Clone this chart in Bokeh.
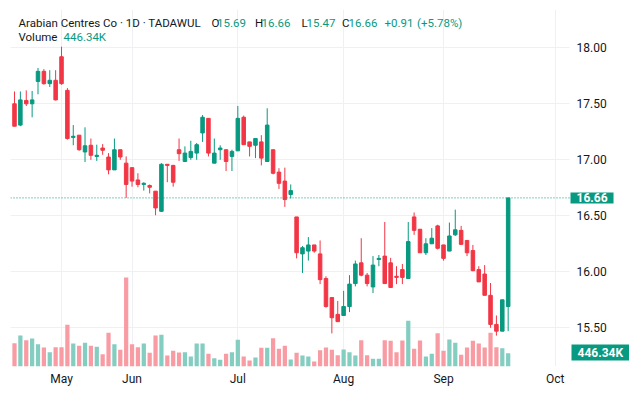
from bokeh.plotting import figure
from bokeh.models import Range1d, FixedTicker, Label, ColumnDataSource, NumeralTickFormatter
from bokeh.embed import file_html
from bokeh.resources import INLINE

# ---------------- data ----------------
opens = [17.50, 17.31, 17.53, 17.50, 17.70, 17.79, 17.68, 17.71, 17.92, 17.62,
         17.20, 17.22, 17.07, 17.13, 17.03, 17.105, 17.025, 16.91, 17.09, 16.97,
         16.93, 16.82, 16.78, 16.77, 16.72, 16.54, 16.96, 16.95, 17.09, 16.985,
         17.02, 17.06, 17.24, 17.37, 16.97, 17.09, 17.09, 17.03, 17.08, 17.38,
         17.16, 17.13, 17.16, 16.985, 17.09, 16.89, 16.81, 16.69, 16.49, 16.16,
         16.185, 16.24, 16.16, 15.94, 15.77, 15.62, 15.61, 15.69, 15.895, 16.08,
         15.97, 15.865, 16.11, 16.14, 16.08, 15.96, 16.02, 15.94, 16.49, 16.38,
         16.17, 16.25, 16.41, 16.24, 16.185, 16.33, 16.37, 16.28, 16.19, 16.02,
         15.98, 15.79, 15.53, 15.47, 15.69]
highs = [17.61, 17.61, 17.62, 17.615, 17.82, 17.81, 17.80, 17.80, 18.01, 17.64,
         17.31, 17.22, 17.29, 17.19, 17.135, 17.14, 17.06, 17.19, 17.09, 17.03,
         16.93, 16.88, 16.80, 16.78, 16.72, 16.97, 16.96, 16.955, 17.19, 17.12,
         17.17, 17.15, 17.40, 17.37, 17.19, 17.13, 17.09, 17.09, 17.48, 17.395,
         17.16, 17.19, 17.22, 17.46, 17.09, 16.925, 16.93, 16.78, 16.49, 16.23,
         16.31, 16.24, 16.28, 15.96, 15.77, 15.74, 15.83, 15.97, 16.10, 16.30,
         15.99, 16.14, 16.15, 16.445, 16.125, 16.05, 16.07, 16.445, 16.53, 16.38,
         16.30, 16.39, 16.42, 16.24, 16.44, 16.555, 16.41, 16.28, 16.24, 16.05,
         16.06, 15.90, 15.61, 15.75, 16.66]
lows = [17.30, 17.30, 17.48, 17.38, 17.585, 17.67, 17.65, 17.53, 17.67, 17.18,
        17.13, 17.08, 16.98, 17.00, 16.99, 17.045, 16.87, 16.91, 17.00, 16.66,
        16.76, 16.755, 16.725, 16.70, 16.505, 16.535, 16.80, 16.76, 16.99, 16.98,
        17.00, 17.00, 17.16, 17.03, 16.97, 17.00, 16.90, 16.90, 17.08, 17.135,
        17.03, 17.015, 16.95, 16.985, 16.87, 16.74, 16.58, 16.655, 16.12, 15.99,
        16.10, 16.17, 15.89, 15.68, 15.45, 15.555, 15.61, 15.64, 15.87, 15.96,
        15.87, 15.81, 16.05, 15.895, 15.86, 15.89, 15.89, 15.94, 16.33, 16.17,
        16.15, 16.25, 16.20, 16.10, 16.185, 16.32, 16.24, 16.14, 16.005, 15.91,
        15.79, 15.50, 15.43, 15.47, 15.47]
closes = [17.30, 17.535, 17.50, 17.535, 17.79, 17.68, 17.71, 17.535, 17.68, 17.19,
          17.21, 17.09, 17.125, 17.04, 17.04, 17.085, 16.91, 17.09, 17.025, 16.78,
          16.81, 16.78, 16.79, 16.755, 16.57, 16.96, 16.95, 16.80, 17.055, 17.06,
          17.075, 17.135, 17.38, 17.06, 17.06, 17.105, 16.985, 17.075, 17.37, 17.135,
          17.12, 17.19, 17.015, 17.31, 16.88, 16.79, 16.645, 16.725, 16.17, 16.215,
          16.24, 16.185, 15.93, 15.69, 15.59, 15.555, 15.69, 15.89, 16.07, 15.97,
          15.895, 16.06, 16.12, 15.895, 15.86, 15.95, 15.95, 16.27, 16.37, 16.17,
          16.25, 16.30, 16.21, 16.12, 16.32, 16.375, 16.245, 16.17, 16.01, 15.91,
          15.79, 15.53, 15.47, 15.75, 16.66]
volumes_k = [781, 1039, 881, 938, 747, 637, 479, 647, 647, 1397,
             771, 693, 794, 693, 660, 412, 1129, 747, 559, 2982,
             747, 647, 771, 459, 1039, 1062, 369, 526, 469, 479,
             335, 771, 771, 425, 278, 224, 425, 479, 894, 335,
             201, 302, 626, 626, 948, 593, 693, 235, 459, 365,
             335, 168, 546, 637, 559, 379, 570, 479, 369, 881,
             379, 258, 258, 881, 861, 479, 871, 1531, 593, 871,
             335, 425, 1116, 526, 905, 794, 392, 637, 861, 771,
             637, 1129, 647, 613, 446.34]
month_positions = [8, 20, 38, 56, 73, 92]
month_labels = ["May", "Jun", "Jul", "Aug", "Sep", "Oct"]
price_ticks = [15.5, 16.0, 16.5, 17.0, 17.5, 18.0]

# ---------------- style ----------------
UP = "#089981"
DOWN = "#F23645"
UP_VOL = "#84cdc1"
DOWN_VOL = "#f89ba3"
DARK = "#131722"
GRID = "#eef0f4"
FONT = "Roboto"

BAR_PX = 5.877      # pixels per bar
X0_PX = 14.0        # page x of first bar
PANE_RIGHT_PX = 569  # right edge of the price pane (price scale to the right)


def px_to_idx(px):
    return (px - X0_PX) / BAR_PX


def price_at(py):
    return 18 - (py - 47.3) / 112.0


n = len(closes)
xs = list(range(n))
up = [c >= o for o, c in zip(opens, closes)]
src = ColumnDataSource(dict(
    x=xs,
    high=highs, low=lows,
    top=[max(o, c) for o, c in zip(opens, closes)],
    bottom=[min(o, c) for o, c in zip(opens, closes)],
    color=[UP if u else DOWN for u in up],
    vol=volumes_k,
    vcolor=[UP_VOL if u else DOWN_VOL for u in up],
))

W, H = 632, 392
p = figure(width=W, height=H, output_backend="svg", toolbar_location=None,
           x_range=Range1d(px_to_idx(10), px_to_idx(W)), y_range=Range1d(15.1545, 18.342),
           y_axis_location="right",
           min_border_left=10, min_border_top=9, min_border_right=0, min_border_bottom=26)
p.extra_y_ranges = {"vol": Range1d(0, 11952)}
p.outline_line_color = None
p.background_fill_color = "white"
p.border_fill_color = "white"

# volume
p.vbar(x="x", width=0.72, top="vol", bottom=0, source=src, y_range_name="vol",
       fill_color="vcolor", line_color=None)

# candles
p.segment(x0="x", y0="low", x1="x", y1="high", source=src, line_color="color", line_width=1)
p.vbar(x="x", width=0.6, top="top", bottom="bottom", source=src,
       fill_color="color", line_color="color", line_width=1)

# axes
p.xaxis.ticker = FixedTicker(ticks=month_positions)
p.xaxis.major_label_overrides = {m: l for m, l in zip(month_positions, month_labels)}
p.yaxis.ticker = FixedTicker(ticks=price_ticks)
p.yaxis.formatter = NumeralTickFormatter(format="0.00")
for ax in (p.xaxis, p.yaxis):
    ax.axis_line_color = None
    ax.major_tick_line_color = None
    ax.minor_tick_line_color = None
    ax.major_tick_out = 0
    ax.major_tick_in = 0
    ax.minor_tick_out = 0
    ax.minor_tick_in = 0
    ax.major_label_text_font = FONT
    ax.major_label_text_font_size = "12px"
    ax.major_label_text_color = DARK
p.xaxis.major_label_standoff = 5
# price scale labels sit in the strip right of the price pane
p.yaxis.major_label_standoff = 576 - W

p.xgrid.ticker = FixedTicker(ticks=month_positions)
p.ygrid.ticker = FixedTicker(ticks=price_ticks)
p.xgrid.grid_line_color = GRID
p.ygrid.grid_line_color = GRID
p.ygrid.cross_bounds = (px_to_idx(10), px_to_idx(PANE_RIGHT_PX))
p.xgrid.bounds = (month_positions[0], month_positions[-1])

# last price line (dotted) across the price pane
last = closes[-1]
p.line(x=[px_to_idx(10), px_to_idx(PANE_RIGHT_PX + 1)], y=[last, last],
       line_color=UP, line_dash="1 2", line_width=1)

# price tag and volume tag on the price scale
p.add_layout(Label(x=px_to_idx(570), y=last, text=f"{last:.2f}",
                   text_align="left", text_baseline="middle", text_color="white",
                   text_font=FONT, text_font_size="12px", text_font_style="bold",
                   background_fill_color=UP, padding=(6, 1)))
p.add_layout(Label(x=px_to_idx(571), y=(366 - 352) / 0.02987, y_range_name="vol",
                   text=f"{volumes_k[-1]:.2f}K",
                   text_align="left", text_baseline="middle", text_color="white",
                   text_font=FONT, text_font_size="12px", text_font_style="bold",
                   background_fill_color=UP, padding=(6, 1)))

# header legend
chg = closes[-1] - closes[-2]
pct = chg / closes[-2] * 100
row1 = [
    ("Arabian Centres Co \u00b7 1D \u00b7 TADAWUL", 18, DARK),
    ("O", 211, DARK), (f"{opens[-1]:.2f}", 216.5, UP),
    ("H", 254.5, DARK), (f"{highs[-1]:.2f}", 261, UP),
    ("L", 301, DARK), (f"{lows[-1]:.2f}", 306, UP),
    ("C", 341.5, DARK), (f"{closes[-1]:.2f}", 348, UP),
    (f"{chg:+.2f}", 384, UP), (f"({pct:+.2f}%)", 416.5, UP),
]
row2 = [("Volume", 18, DARK), (f"{volumes_k[-1]:.2f}K", 63, UP)]
for items, py in ((row1, 22.5), (row2, 36.5)):
    for txt, px, col in items:
        p.add_layout(Label(x=px_to_idx(px), y=price_at(py), text=txt,
                           text_align="left", text_baseline="middle",
                           text_color=col, text_font=FONT, text_font_size="11.5px"))

open("out.html", "w").write(file_html(p, INLINE))
